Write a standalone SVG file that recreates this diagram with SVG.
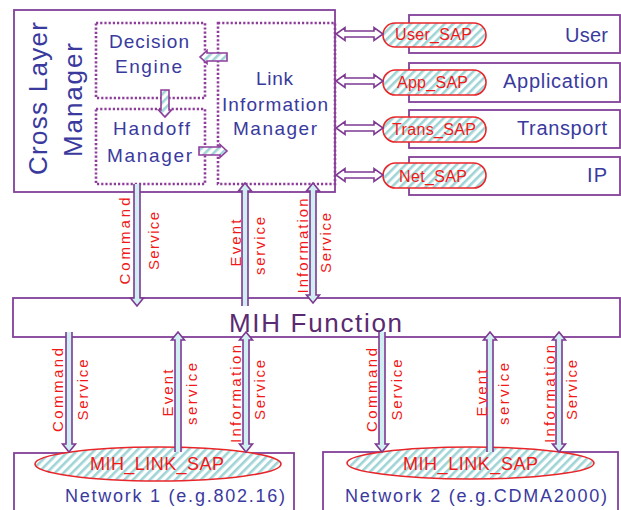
<svg xmlns="http://www.w3.org/2000/svg" width="621" height="510" viewBox="0 0 621 510">
  <defs>
    <pattern id="hatch" patternUnits="userSpaceOnUse" width="6" height="6" patternTransform="rotate(45)">
      <rect width="6" height="6" fill="#ffffff"/>
      <rect width="2.6" height="6" fill="#9fd4d6"/>
    </pattern>
    <style>
      .box { fill: #ffffff; stroke: #83409a; stroke-width: 1.8; }
      .dots { fill: none; stroke: #8e3d9a; stroke-width: 2.6; stroke-dasharray: 2.2 2; }
      .sap { fill: url(#hatch); stroke: #e8262a; stroke-width: 1.6; }
      .arrow { fill: #cfeff1; stroke: #7e3a92; stroke-width: 1.6; stroke-linejoin: miter; }
      .harrow { fill: #ffffff; stroke: #7e3a92; stroke-width: 1.6; }
      .inner { fill: url(#hatch); stroke: #8e3d9a; stroke-width: 1.6; }
      .navy { font-family: "Liberation Sans", Arial, sans-serif; fill: #3a3a9e; }
      .red { font-family: "Liberation Sans", Arial, sans-serif; fill: #f01818; }
      .svc { font-family: "Liberation Sans", Arial, sans-serif; fill: #f01818; font-size: 15px; text-anchor: middle; }
    </style>
  </defs>

  <rect width="621" height="510" fill="#ffffff"/>

  <!-- Cross Layer Manager -->
  <g id="cross-layer-manager">
    <rect class="box" x="14" y="10" width="321" height="182"/>
    <text class="navy" font-size="26" text-anchor="middle" textLength="153" lengthAdjust="spacing" transform="translate(47,98.5) rotate(-90)">Cross Layer</text>
    <text class="navy" font-size="26" text-anchor="middle" textLength="114" lengthAdjust="spacing" transform="translate(82,100) rotate(-90)">Manager</text>
  </g>

  <g id="decision-engine">
    <rect class="dots" x="96" y="23" width="109" height="75"/>
    <text class="navy" font-size="19" x="149" y="48" text-anchor="middle" textLength="80" lengthAdjust="spacing">Decision</text>
    <text class="navy" font-size="19" x="148.5" y="73" text-anchor="middle" textLength="67" lengthAdjust="spacing">Engine</text>
  </g>

  <g id="handoff-manager">
    <rect class="dots" x="96" y="109" width="109" height="75"/>
    <text class="navy" font-size="19" x="151.5" y="135" text-anchor="middle" textLength="77" lengthAdjust="spacing">Handoff</text>
    <text class="navy" font-size="19" x="149.5" y="162" text-anchor="middle" textLength="85" lengthAdjust="spacing">Manager</text>
  </g>

  <g id="link-information-manager">
    <rect class="dots" x="218" y="23" width="117" height="161"/>
    <text class="navy" font-size="19" x="274.5" y="85" text-anchor="middle" textLength="37" lengthAdjust="spacing">Link</text>
    <text class="navy" font-size="19" x="275" y="111" text-anchor="middle" textLength="106" lengthAdjust="spacing">Information</text>
    <text class="navy" font-size="19" x="275" y="135" text-anchor="middle" textLength="84" lengthAdjust="spacing">Manager</text>
  </g>

  <!-- Upper protocol layers with their service access points -->
  <g id="user-layer">
    <rect class="box" x="409" y="15" width="211" height="38"/>
    <text class="navy" font-size="20" x="608" y="42" text-anchor="end" textLength="43" lengthAdjust="spacing">User</text>
    <rect class="sap" x="383" y="23" width="103" height="24" rx="12"/>
    <text class="red" font-size="16" x="433.5" y="40" text-anchor="middle" textLength="77" lengthAdjust="spacing">User_SAP</text>
  </g>

  <g id="application-layer">
    <rect class="box" x="409" y="63" width="211" height="39"/>
    <text class="navy" font-size="20" x="608" y="88" text-anchor="end" textLength="105" lengthAdjust="spacing">Application</text>
    <rect class="sap" x="383" y="70" width="103" height="25" rx="12.5"/>
    <text class="red" font-size="16" x="432.5" y="88" text-anchor="middle" textLength="71" lengthAdjust="spacing">App_SAP</text>
  </g>

  <g id="transport-layer">
    <rect class="box" x="409" y="110" width="211" height="38"/>
    <text class="navy" font-size="20" x="607" y="135" text-anchor="end" textLength="90" lengthAdjust="spacing">Transport</text>
    <rect class="sap" x="383" y="117" width="103" height="25" rx="12.5"/>
    <text class="red" font-size="16" x="434" y="135" text-anchor="middle" textLength="84" lengthAdjust="spacing">Trans_SAP</text>
  </g>

  <g id="ip-layer">
    <rect class="box" x="409" y="157" width="211" height="38"/>
    <text class="navy" font-size="20" x="607" y="182" text-anchor="end" textLength="20" lengthAdjust="spacing">IP</text>
    <rect class="sap" x="383" y="163" width="103" height="25" rx="12.5"/>
    <text class="red" font-size="16" x="433" y="182" text-anchor="middle" textLength="68" lengthAdjust="spacing">Net_SAP</text>
  </g>

  <!-- MIH Function -->
  <g id="mih-function">
    <rect class="box" x="13" y="298" width="607" height="39"/>
    <text font-family="'Liberation Sans', Arial, sans-serif" font-size="26" fill="#5a2a72" x="315.5" y="332" text-anchor="middle" textLength="173" lengthAdjust="spacing">MIH Function</text>
  </g>

  <!-- Lower networks -->
  <g id="network-1">
    <rect class="box" x="14" y="453" width="280" height="70"/>
    <ellipse class="sap" cx="158" cy="464" rx="123" ry="17"/>
    <text class="red" font-size="18" x="157" y="470" text-anchor="middle" textLength="134" lengthAdjust="spacing">MIH_LINK_SAP</text>
    <text class="navy" font-size="18" x="175" y="502" text-anchor="middle" textLength="220" lengthAdjust="spacing">Network 1 (e.g.802.16)</text>
  </g>

  <g id="network-2">
    <rect class="box" x="323" y="452" width="295" height="70"/>
    <ellipse class="sap" cx="470.5" cy="463" rx="123.5" ry="16"/>
    <text class="red" font-size="18" x="470.5" y="470" text-anchor="middle" textLength="135" lengthAdjust="spacing">MIH_LINK_SAP</text>
    <text class="navy" font-size="18" x="476" y="502" text-anchor="middle" textLength="262" lengthAdjust="spacing">Network 2 (e.g.CDMA2000)</text>
  </g>

  <!-- Connectors -->
  <g id="connectors">
    <!-- inside the cross layer manager -->
    <path class="inner" d="M227,53 H207 V50.5 L200,57 L207,63.5 V61 H227 Z"/>
    <path class="inner" d="M161,90 V110 H158.5 L165,117 L171.5,110 H169 V90 Z"/>
    <path class="inner" d="M199,147 H220 V144.5 L227,151 L220,157.5 V155 H199 Z"/>

    <!-- manager to SAPs -->
    <path class="harrow" transform="translate(0,34)" d="M345,-3 H374 V-6.5 L383,0 L374,6.5 V3 H345 V6.5 L336,0 L345,-6.5 Z"/>
    <path class="harrow" transform="translate(0,81)" d="M345,-3 H374 V-6.5 L383,0 L374,6.5 V3 H345 V6.5 L336,0 L345,-6.5 Z"/>
    <path class="harrow" transform="translate(0,128)" d="M345,-3 H374 V-6.5 L383,0 L374,6.5 V3 H345 V6.5 L336,0 L345,-6.5 Z"/>
    <path class="harrow" transform="translate(0,175)" d="M345,-3 H374 V-6.5 L383,0 L374,6.5 V3 H345 V6.5 L336,0 L345,-6.5 Z"/>

    <!-- manager to MIH function -->
    <path class="arrow" d="M134,184 V298 H130.5 L137,306 L143.5,298 H140 V184"/>
    <path class="arrow" d="M242,306 V191 H238.5 L245,183 L251.5,191 H248 V306"/>
    <path class="arrow" d="M310,191 H306.5 L313,183 L319.5,191 H316 V295 H319.5 L313,303 L306.5,295 H310 Z"/>

    <!-- MIH function to network 1 -->
    <path class="arrow" d="M66,332 V444 H62.5 L69,452 L75.5,444 H72 V332"/>
    <path class="arrow" d="M175,452 V340 H171.5 L178,332 L184.5,340 H181 V452"/>
    <path class="arrow" d="M243,340 H239.5 L246,332 L252.5,340 H249 V444 H252.5 L246,452 L239.5,444 H243 Z"/>

    <!-- MIH function to network 2 -->
    <path class="arrow" d="M379,332 V444 H375.5 L382,452 L388.5,444 H385 V332"/>
    <path class="arrow" d="M487,452 V340 H483.5 L490,332 L496.5,340 H493 V452"/>
    <path class="arrow" d="M556,340 H552.5 L559,332 L565.5,340 H562 V444 H565.5 L559,452 L552.5,444 H556 Z"/>

    <!-- service labels -->
    <text class="svc" textLength="87" lengthAdjust="spacing" transform="translate(130,241) rotate(-90)">Command</text>
    <text class="svc" textLength="58" lengthAdjust="spacing" transform="translate(159,241) rotate(-90)">Service</text>
    <text class="svc" textLength="47" lengthAdjust="spacing" transform="translate(241,243) rotate(-90)">Event</text>
    <text class="svc" textLength="58" lengthAdjust="spacing" transform="translate(265,246) rotate(-90)">service</text>
    <text class="svc" textLength="95" lengthAdjust="spacing" transform="translate(308,246) rotate(-90)">Information</text>
    <text class="svc" textLength="60" lengthAdjust="spacing" transform="translate(331,243) rotate(-90)">Service</text>

    <text class="svc" textLength="84" lengthAdjust="spacing" transform="translate(63,390) rotate(-90)">Command</text>
    <text class="svc" textLength="61" lengthAdjust="spacing" transform="translate(88,390) rotate(-90)">Service</text>
    <text class="svc" textLength="47" lengthAdjust="spacing" transform="translate(173,393) rotate(-90)">Event</text>
    <text class="svc" textLength="62" lengthAdjust="spacing" transform="translate(197,394) rotate(-90)">service</text>
    <text class="svc" textLength="98" lengthAdjust="spacing" transform="translate(241,394) rotate(-90)">Information</text>
    <text class="svc" textLength="60" lengthAdjust="spacing" transform="translate(265,390) rotate(-90)">Service</text>

    <text class="svc" textLength="84" lengthAdjust="spacing" transform="translate(377,390) rotate(-90)">Command</text>
    <text class="svc" textLength="61" lengthAdjust="spacing" transform="translate(402,390) rotate(-90)">Service</text>
    <text class="svc" textLength="47" lengthAdjust="spacing" transform="translate(487,393) rotate(-90)">Event</text>
    <text class="svc" textLength="62" lengthAdjust="spacing" transform="translate(509,394) rotate(-90)">service</text>
    <text class="svc" textLength="98" lengthAdjust="spacing" transform="translate(555,394) rotate(-90)">Information</text>
    <text class="svc" textLength="60" lengthAdjust="spacing" transform="translate(577,390) rotate(-90)">Service</text>
  </g>
</svg>
